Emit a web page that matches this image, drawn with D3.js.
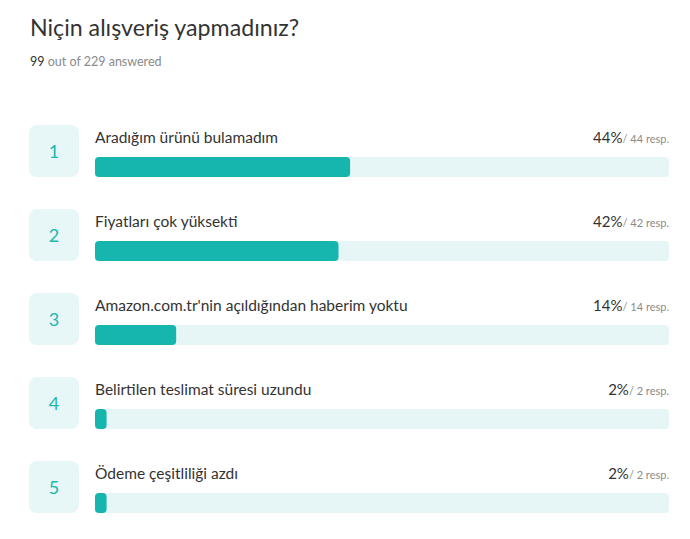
<!DOCTYPE html>
<html>
<head>
<meta charset="utf-8">
<script src="https://cdn.jsdelivr.net/npm/d3@7"></script>
<style>
  html, body { margin: 0; padding: 0; background: #fff; }
  svg { display: block; font-family: "Source Sans Pro", Lato, "Open Sans", sans-serif; }
</style>
</head>
<body>
<svg id="chart" width="690" height="539"></svg>
<script>
// Survey question results
const title = "Niçin alışveriş yapmadınız?";
const answered = 99;
const total = 229;
const choices = [
  "Aradığım ürünü bulamadım",
  "Fiyatları çok yüksekti",
  "Amazon.com.tr'nin açıldığından haberim yoktu",
  "Belirtilen teslimat süresi uzundu",
  "Ödeme çeşitliliği azdı"
];
const responses = [44, 42, 14, 2, 2];

// share of answering respondents, in percent
const share = i => responses[i] / answered * 100;

const svg = d3.select("#chart");

const rows = d3.range(choices.length);
const y = d3.scaleBand().domain(rows).range([125, 545]).paddingInner(0);
const x = d3.scaleLinear().domain([0, 100]).range([95, 669]);

svg.append("text")
  .attr("x", 30).attr("y", 36)
  .attr("font-size", 23.2)
  .attr("fill", "#333")
  .text(title);

const sub = svg.append("text")
  .attr("x", 30).attr("y", 65.5)
  .attr("font-size", 12.5)
  .attr("fill", "#8a8a8a");
sub.append("tspan").attr("fill", "#333").text(answered);
sub.append("tspan").text(` out of ${total} answered`);

const g = svg.selectAll("g.row").data(rows).join("g")
  .attr("class", "row")
  .attr("transform", i => `translate(0,${y(i)})`);

g.append("rect")
  .attr("x", 29).attr("y", 0)
  .attr("width", 50).attr("height", 52)
  .attr("rx", 8)
  .attr("fill", "#e7f6f6");

g.append("text")
  .attr("x", 54).attr("y", 33)
  .attr("text-anchor", "middle")
  .attr("font-size", 18)
  .attr("fill", "#21b6ae")
  .text(i => i + 1);

g.append("text")
  .attr("x", 95).attr("y", 18)
  .attr("font-size", 15.5)
  .attr("fill", "#333")
  .text(i => choices[i]);

// track
g.append("rect")
  .attr("x", x(0)).attr("y", 32)
  .attr("width", x(100) - x(0)).attr("height", 20)
  .attr("rx", 4)
  .attr("fill", "#e6f6f6");

// value bar
g.append("rect")
  .attr("x", x(0)).attr("y", 32)
  .attr("width", i => x(share(i)) - x(0)).attr("height", 20)
  .attr("rx", 4)
  .attr("fill", "#16b5ae");

const pct = g.append("text")
  .attr("x", 669).attr("y", 18)
  .attr("text-anchor", "end");
pct.append("tspan")
  .attr("font-size", 15)
  .attr("fill", "#333")
  .text(i => Math.round(share(i)) + "%");
pct.append("tspan")
  .attr("font-size", 11)
  .attr("fill", "#8a8a8a")
  .text(i => `/ ${responses[i]} resp.`);
</script>
</body>
</html>
